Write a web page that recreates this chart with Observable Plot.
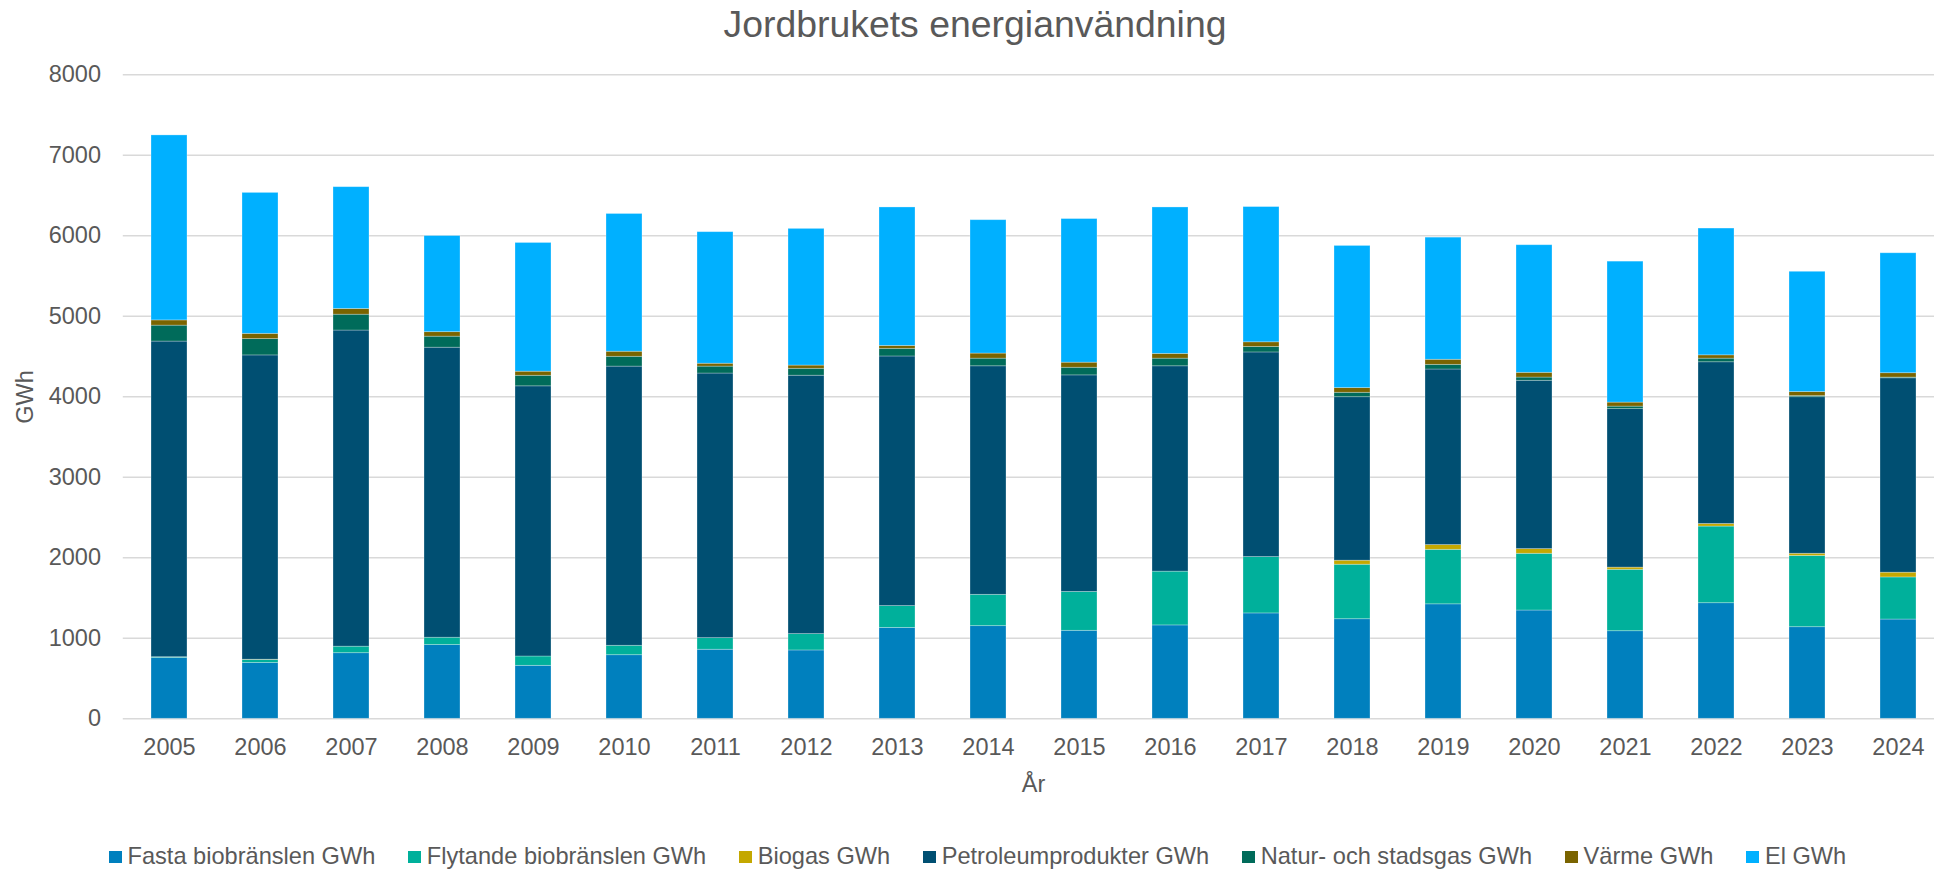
<!DOCTYPE html>
<html>
<head>
<meta charset="utf-8">
<script src="https://cdn.jsdelivr.net/npm/d3@7"></script>
<script src="https://cdn.jsdelivr.net/npm/@observablehq/plot@0.6"></script>
<style>
  body { margin: 0; background: #fff; font-family: "Liberation Sans", Arial, sans-serif; color: #595959; }
  #wrap { position: relative; width: 1934px; height: 870px; overflow: hidden; }
  #title { position: absolute; top: 5.6px; left: 8px; width: 1934px; text-align: center; font-size: 37.4px; line-height: 37.4px; white-space: nowrap; }
  #chart { position: absolute; left: 0; top: 0; }
  #xlabel { position: absolute; top: 773px; left: 1033.6px; transform: translateX(-50%); font-size: 23.5px; line-height: 23.5px; white-space: nowrap; }
  #ylabel { position: absolute; top: 397px; left: 26px; transform: translate(-50%, -50%) rotate(-90deg); font-size: 23.5px; line-height: 23.5px; white-space: nowrap; }
  #legend { position: absolute; top: 845px; left: 109px; display: flex; align-items: center; font-size: 23.6px; line-height: 23.5px; white-space: nowrap; }
  .item { display: flex; align-items: center; margin-right: 33px; }
  .sw { width: 12.5px; height: 12.5px; margin-right: 6px; }
</style>
</head>
<body>
<div id="wrap">
  <div id="title">Jordbrukets energianvändning</div>
  <div id="chart"></div>
  <div id="xlabel">År</div>
  <div id="ylabel">GWh</div>
  <div id="legend"></div>
</div>
<script>
const years = ["2005","2006","2007","2008","2009","2010","2011","2012","2013","2014","2015","2016","2017","2018","2019","2020","2021","2022","2023","2024"];
const yTicks = [0, 1000, 2000, 3000, 4000, 5000, 6000, 7000, 8000];

const seriesNames = ["Fasta biobränslen GWh", "Flytande biobränslen GWh", "Biogas GWh", "Petroleumprodukter GWh", "Natur- och stadsgas GWh", "Värme GWh", "El GWh"];
const seriesColors = ["#0080BE", "#00B09B", "#C4A800", "#004F72", "#006B5A", "#7A6400", "#00B0FF"];

const fasta      = [755, 693, 815, 916, 658, 790, 858, 849, 1129, 1151, 1093, 1160, 1309, 1237, 1422, 1345, 1088, 1436, 1138, 1233];
const flytande   = [10, 38, 81, 91, 116, 117, 144, 203, 271, 389, 483, 668, 700, 677, 677, 705, 763, 952, 885, 523];
const biogas     = [0, 3, 0, 0, 0, 0, 0, 0, 0, 0, 0, 0, 0, 50, 59, 58, 27, 32, 27, 59];
const petroleum  = [3921, 3780, 3927, 3603, 3356, 3468, 3287, 3210, 3101, 2839, 2690, 2551, 2542, 2031, 2181, 2091, 1969, 2009, 1945, 2415];
const naturgas   = [198, 203, 197, 137, 131, 122, 86, 86, 95, 95, 95, 95, 68, 55, 58, 40, 31, 45, 14, 9];
const varme      = [65, 65, 71, 56, 51, 63, 36, 40, 36, 63, 63, 59, 58, 58, 63, 59, 50, 41, 50, 54];
const el         = [2298, 1751, 1513, 1194, 1599, 1711, 1634, 1698, 1720, 1657, 1784, 1819, 1680, 1766, 1517, 1585, 1751, 1575, 1494, 1490];

const seriesValues = [fasta, flytande, biogas, petroleum, naturgas, varme, el];

const rows = [];
seriesValues.forEach((vals, si) => {
  years.forEach((yr, i) => {
    if (vals[i] > 0) rows.push({year: yr, serie: seriesNames[si], value: vals[i]});
  });
});

const chart = Plot.plot({
  width: 1934,
  height: 800,
  marginTop: 74.3,
  marginBottom: 81.7,
  marginLeft: 122.8,
  marginRight: 0,
  style: {fontFamily: "'Liberation Sans', Arial, sans-serif", color: "#595959", background: "transparent", overflow: "visible"},
  x: {domain: years, range: [122.8, 1944.4], paddingInner: 0.6, paddingOuter: 0.3, label: null},
  y: {domain: [0, 8000], label: null},
  color: {domain: seriesNames, range: seriesColors},
  marks: [
    Plot.ruleY(yTicks, {stroke: "#D9D9D9", strokeWidth: 1.5}),
    Plot.barY(rows, Plot.stackY({x: "year", y: "value", fill: "serie", stroke: "white", strokeOpacity: 0.35, strokeWidth: 0.8})),
    Plot.axisY({ticks: yTicks, tickFormat: d3.format("d"), tickSize: 0, tickPadding: 22.3, fontSize: 23.5, fill: "#595959", label: null}),
    Plot.axisX({tickSize: 0, tickPadding: 20, fontSize: 23.5, fill: "#595959", label: null})
  ]
});
document.getElementById("chart").appendChild(chart);

const legend = document.getElementById("legend");
seriesNames.forEach((name, i) => {
  const item = document.createElement("div");
  item.className = "item";
  if (i === seriesNames.length - 1) item.style.marginRight = "0";
  const sw = document.createElement("div");
  sw.className = "sw";
  sw.style.background = seriesColors[i];
  const t = document.createElement("span");
  t.textContent = name;
  item.appendChild(sw);
  item.appendChild(t);
  legend.appendChild(item);
});
</script>
</body>
</html>
